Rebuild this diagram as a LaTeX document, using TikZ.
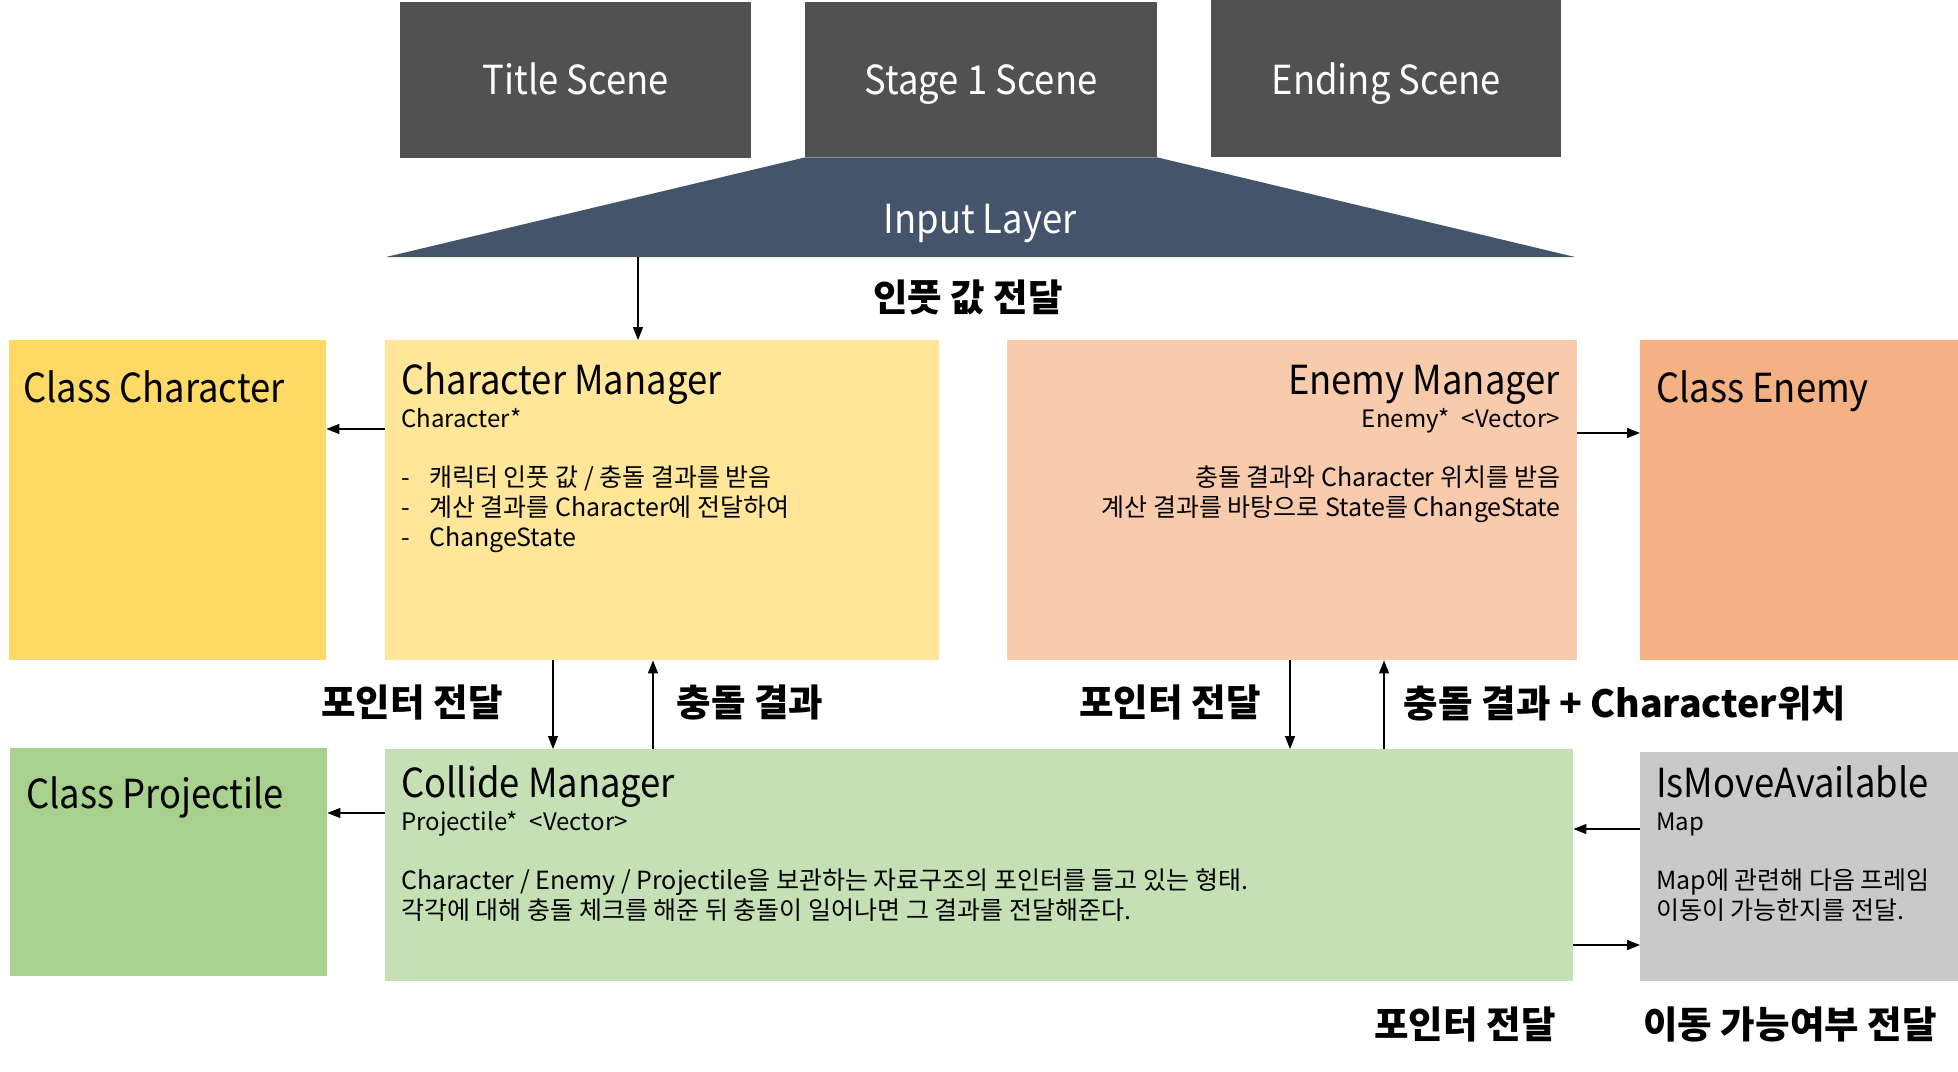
\documentclass[tikz,border=0pt]{standalone}
\usepackage{fontspec}
\setmainfont{Noto Sans CJK KR}
\newfontfamily\titlefont[FakeStretch=0.91]{Noto Sans CJK KR}
\usetikzlibrary{arrows.meta}
\definecolor{scenec}{HTML}{515151}
\definecolor{inputc}{HTML}{44546A}
\definecolor{ccharc}{HTML}{FFD966}
\definecolor{mcharc}{HTML}{FFE699}
\definecolor{menemc}{HTML}{F8CBAD}
\definecolor{cenemc}{HTML}{F4B183}
\definecolor{cprojc}{HTML}{A9D18E}
\definecolor{mcolc}{HTML}{C5E0B4}
\definecolor{movec}{HTML}{C9C9C9}
\tikzset{
  boxst/.style={draw=none, inner sep=0pt, anchor=north west},
  bigtxt/.style={inner sep=0pt, font=\titlefont\fontsize{40}{48}\selectfont},
  subtxt/.style={inner sep=0pt, font=\fontsize{24}{29}\selectfont},
  bodytxt/.style={inner sep=0pt, font=\fontsize{25}{30}\selectfont},
  lbltxt/.style={inner sep=0pt, font=\fontsize{37.5}{44}\selectfont\bfseries},
  arr/.style={line width=1.3pt, -{Triangle[length=13pt,width=10pt]}},
}
\begin{document}
\begin{tikzpicture}[x=1pt,y=-1pt]
\useasboundingbox (0,0) rectangle (1958,1071);
% scenes
\node[boxst, fill=scenec, minimum width=351pt, minimum height=156pt] (ts) at (400,2) {};
\node[boxst, fill=scenec, minimum width=352pt, minimum height=155pt] (ss) at (805,2) {};
\node[boxst, fill=scenec, minimum width=350pt, minimum height=157pt] (es) at (1211,0) {};
\node[bigtxt, text=white, anchor=base] (tst) at (ts.center |- 0,94) {Title Scene};
\node[bigtxt, text=white, anchor=base] (sst) at (ss.center |- 0,94) {Stage 1 Scene};
\node[bigtxt, text=white, anchor=base] (est) at (es.center |- 0,94) {Ending Scene};
% input layer
\fill[inputc] (ss.south west) -- (ss.south east) -- (1575,257) -- (386,257) -- cycle;
\node[bigtxt, text=white, anchor=base] (ilt) at (980,233) {Input Layer};
\coordinate (ilb) at (638,257);
% boxes
\node[boxst, fill=ccharc, minimum width=317pt, minimum height=320pt] (cc) at (9,340) {};
\node[boxst, fill=mcharc, minimum width=554pt, minimum height=320pt] (cm) at (385,340) {};
\node[boxst, fill=menemc, minimum width=570pt, minimum height=320pt] (em) at (1007,340) {};
\node[boxst, fill=cenemc, minimum width=318pt, minimum height=320pt] (ce) at (1640,340) {};
\node[boxst, fill=cprojc, minimum width=317pt, minimum height=228pt] (cp) at (10,748) {};
\node[boxst, fill=mcolc, minimum width=1188pt, minimum height=232pt] (col) at (385,749) {};
\node[boxst, fill=movec, minimum width=318pt, minimum height=229pt] (mv) at (1640,752) {};
% texts
\node[bigtxt, anchor=base west] (cct) at (23,402) {Class Character};
\node[bigtxt, anchor=base west] (cmt) at (401,394) {Character Manager};
\node[subtxt, anchor=base west] (cms) at (401,427) {Character*};
\node[bodytxt, anchor=base west] (cmd1) at (401,486) {-};
\node[bodytxt, anchor=base west] (cmd2) at (401,516) {-};
\node[bodytxt, anchor=base west] (cmd3) at (401,546) {-};
\node[bodytxt, anchor=base west] (cmb1) at (429,486) {캐릭터 인풋 값 / 충돌 결과를 받음};
\node[bodytxt, anchor=base west] (cmb2) at (429,516) {계산 결과를 Character에 전달하여};
\node[bodytxt, anchor=base west] (cmb3) at (429,546) {ChangeState};
\node[bigtxt, anchor=base east] (emt) at (1560,394) {Enemy Manager};
\node[subtxt, anchor=base east] (ems) at (1560,427) {Enemy*\enspace<Vector>};
\node[bodytxt, anchor=base east] (emb1) at (1561,486) {충돌 결과와 Character 위치를 받음};
\node[bodytxt, anchor=base east] (emb2) at (1561,516) {계산 결과를 바탕으로 State를 ChangeState};
\node[bigtxt, anchor=base west] (cet) at (1656,402) {Class Enemy};
\node[bigtxt, anchor=base west] (cpt) at (26,808) {Class Projectile};
\node[bigtxt, anchor=base west] (colt) at (401,797) {Collide Manager};
\node[subtxt, anchor=base west] (cols) at (401,830) {Projectile*\enspace<Vector>};
\node[bodytxt, anchor=base west] (colb1) at (401,889) {Character / Enemy / Projectile을 보관하는 자료구조의 포인터를 들고 있는 형태.};
\node[bodytxt, anchor=base west] (colb2) at (401,919) {각각에 대해 충돌 체크를 해준 뒤 충돌이 일어나면 그 결과를 전달해준다.};
\node[bigtxt, anchor=base west] (mvt) at (1656,797) {IsMoveAvailable};
\node[subtxt, anchor=base west] (mvs) at (1656,830) {Map};
\node[bodytxt, anchor=base west] (mvb1) at (1656,889) {Map에 관련해 다음 프레임};
\node[bodytxt, anchor=base west] (mvb2) at (1656,919) {이동이 가능한지를 전달.};
% labels
\node[lbltxt] (l1) at (968,297) {인풋 값 전달};
\node[lbltxt] (l2) at (412,702) {포인터 전달};
\node[lbltxt] (l3) at (750,702) {충돌 결과};
\node[lbltxt] (l4) at (1170,702) {포인터 전달};
\node[lbltxt] (l5) at (1625,703) {충돌 결과 + Character위치};
\node[lbltxt] (l6) at (1465,1024) {포인터 전달};
\node[lbltxt] (l7) at (1790,1024) {이동 가능여부 전달};
% arrows
\draw[arr] (ilb) -- (ilb |- cm.north);
\draw[arr] (cm.west |- 0,429) -- (cc.east |- 0,429);
\draw[arr] (em.east |- 0,433) -- (ce.west |- 0,433);
\draw[arr] (cm.south -| 553,0) -- (col.north -| 553,0);
\draw[arr] (col.north -| 653,0) -- (cm.south -| 653,0);
\draw[arr] (em.south -| 1290,0) -- (col.north -| 1290,0);
\draw[arr] (col.north -| 1384,0) -- (em.south -| 1384,0);
\draw[arr] (col.west |- 0,813) -- (cp.east |- 0,813);
\draw[arr] (mv.west |- 0,829) -- (col.east |- 0,829);
\draw[arr] (col.east |- 0,945) -- (mv.west |- 0,945);
\end{tikzpicture}
\end{document}
